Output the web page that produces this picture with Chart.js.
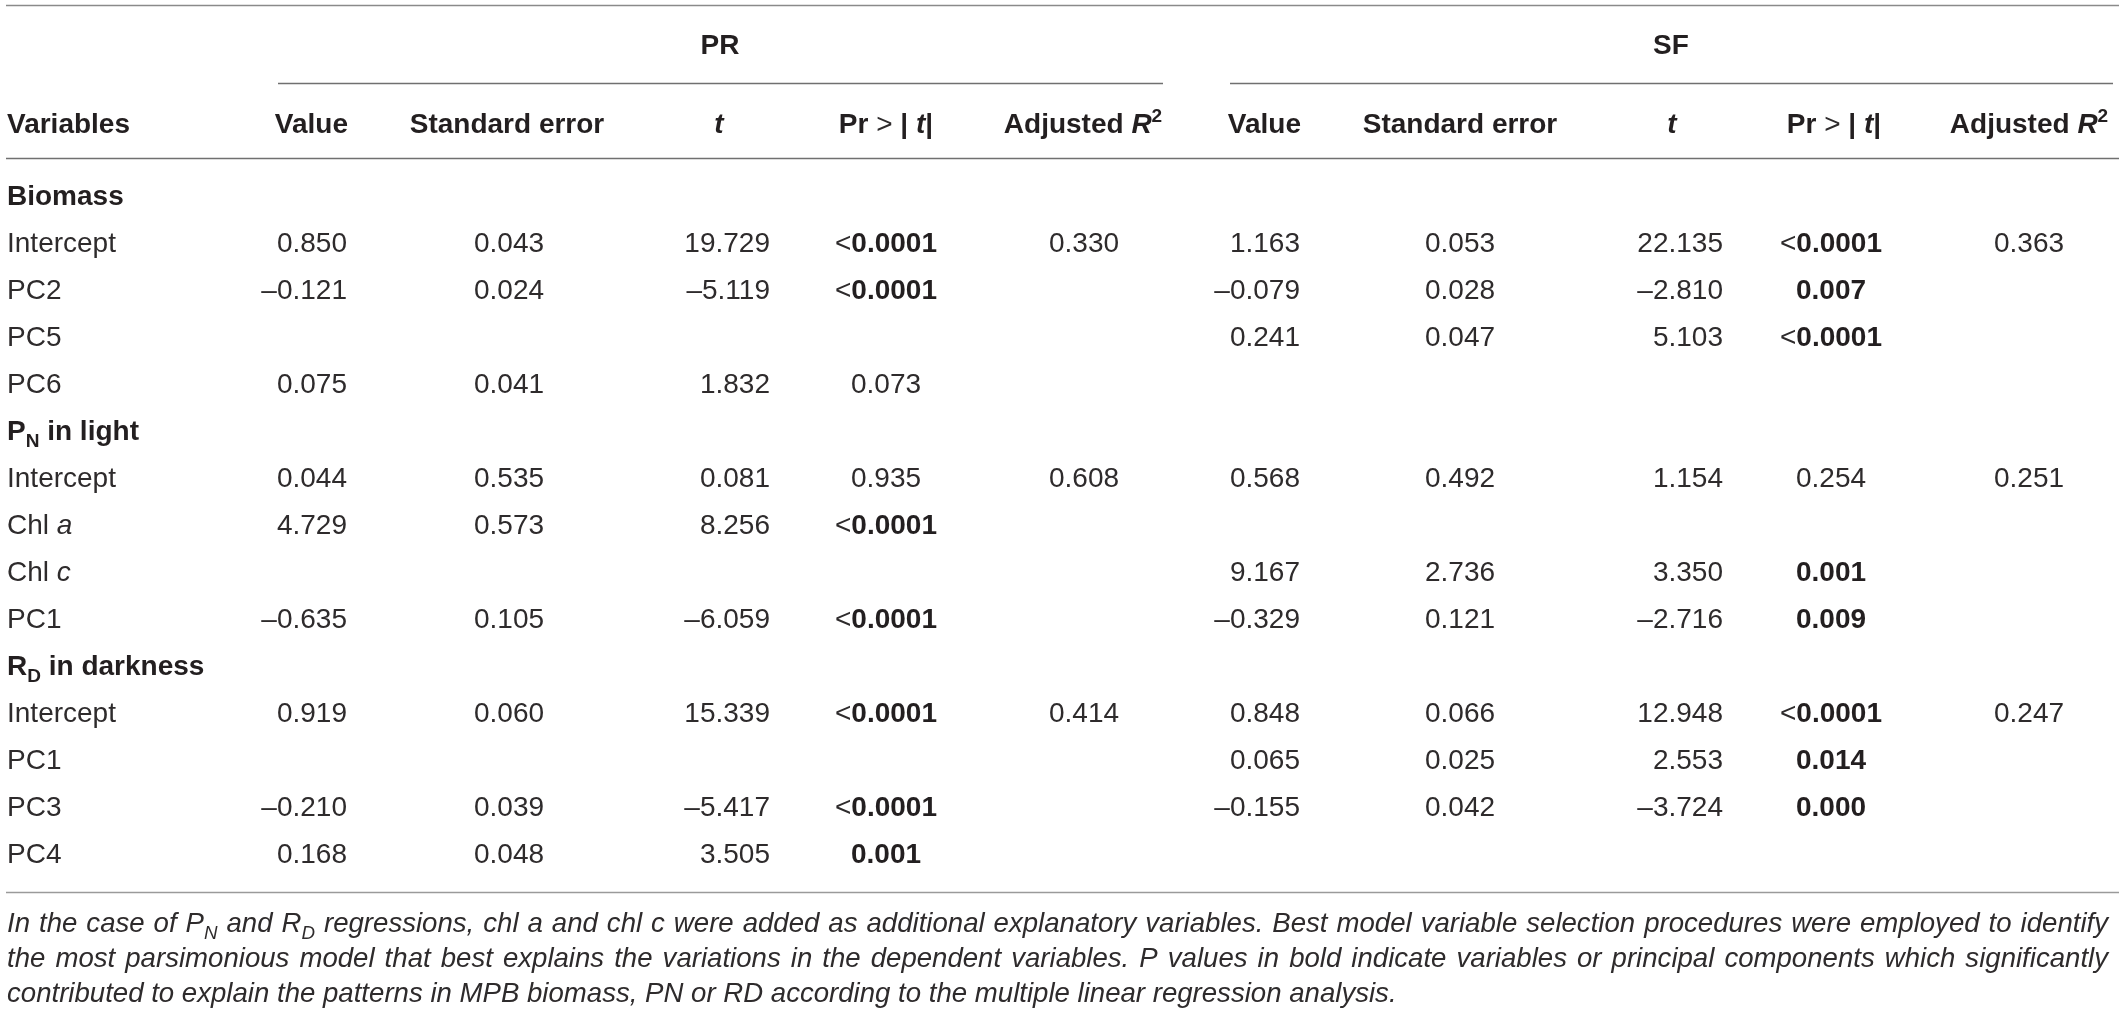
<!DOCTYPE html>
<html>
<head>
<meta charset="utf-8">
<script src="https://cdn.jsdelivr.net/npm/chart.js@4.4.1/dist/chart.umd.min.js"></script>
<style>
html,body{margin:0;padding:0;background:#ffffff;}
#wrap{position:relative;width:2119px;height:1015px;}
</style>
</head>
<body>
<div id="wrap"><canvas id="c"></canvas></div>
<script>
// ---------------- DATA ----------------
const groupNames = ['PR', 'SF'];
const headerVariables = 'Variables';
const columnHeaders = ['Value', 'Standard error', '*t*', 'Pr #># | *t*|', 'Adjusted *R*^{2}'];
const rowLabels = ['Biomass', 'Intercept', 'PC2', 'PC5', 'PC6',
  'P_{N} in light', 'Intercept', 'Chl *a*', 'Chl *c*', 'PC1',
  'R_{D} in darkness', 'Intercept', 'PC1', 'PC3', 'PC4'];
const sectionRows = [0, 5, 10];

const prValue = [null, 0.850, -0.121, null, 0.075, null, 0.044, 4.729, null, -0.635, null, 0.919, null, -0.210, 0.168];
const prSE    = [null, 0.043, 0.024, null, 0.041, null, 0.535, 0.573, null, 0.105, null, 0.060, null, 0.039, 0.048];
const prT     = [null, 19.729, -5.119, null, 1.832, null, 0.081, 8.256, null, -6.059, null, 15.339, null, -5.417, 3.505];
const prP     = [null, '<0.0001', '<0.0001', null, '0.073', null, '0.935', '<0.0001', null, '<0.0001', null, '<0.0001', null, '<0.0001', '0.001'];
const prR2    = [null, 0.330, null, null, null, null, 0.608, null, null, null, null, 0.414, null, null, null];

const sfValue = [null, 1.163, -0.079, 0.241, null, null, 0.568, null, 9.167, -0.329, null, 0.848, 0.065, -0.155, null];
const sfSE    = [null, 0.053, 0.028, 0.047, null, null, 0.492, null, 2.736, 0.121, null, 0.066, 0.025, 0.042, null];
const sfT     = [null, 22.135, -2.810, 5.103, null, null, 1.154, null, 3.350, -2.716, null, 12.948, 2.553, -3.724, null];
const sfP     = [null, '<0.0001', '0.007', '<0.0001', null, null, '0.254', null, '0.001', '0.009', null, '<0.0001', '0.014', '0.000', null];
const sfR2    = [null, 0.363, null, null, null, null, 0.251, null, null, null, null, 0.247, null, null, null];

const footnoteLines = [
  'In the case of P_{N} and R_{D} regressions, chl a and chl c were added as additional explanatory variables. Best model variable selection procedures were employed to identify',
  'the most parsimonious model that best explains the variations in the dependent variables. P values in bold indicate variables or principal components which significantly',
  'contributed to explain the patterns in MPB biomass, PN or RD according to the multiple linear regression analysis.'
];
const significance = 0.05;

// ---------------- LAYOUT ----------------
const W = 2119, H = 1015;
const ROW0 = 195, STEP = 47;               // pixel centre of first body row, row pitch
const R = px => (px - ROW0) / STEP;        // pixel -> row units
const FONT = '"Liberation Sans", Arial, Helvetica, sans-serif';
const SIZE = 28, FOOT_SIZE = 27.6;
const TEXT = '#231f20', TEXT_LIGHT = '#2e2b2c';
// column anchors per group: [x, align]
const bodyCols = [
  [[347, 'right'], [509, 'center'], [770, 'right'], [886, 'center'], [1084, 'center']],
  [[1300, 'right'], [1460, 'center'], [1723, 'right'], [1831, 'center'], [2029, 'center']]
];
const headCols = [
  [[348, 'right'], [507, 'center'], [719, 'center'], [886, 'center'], [1083, 'center']],
  [[1301, 'right'], [1460, 'center'], [1672, 'center'], [1834, 'center'], [2029, 'center']]
];
const groupX = [720, 1671];
const labelX = 7;
const rules = [
  { y: R(5), x0: 6, x1: 2119, c: '#8a8a8a' },
  { y: R(83), x0: 278, x1: 1163, c: '#707070' },
  { y: R(83), x0: 1230, x1: 2113, c: '#707070' },
  { y: R(158), x0: 6, x1: 2119, c: '#707070' },
  { y: R(892), x0: 6, x1: 2119, c: '#9a9a9a' }
];
const groupY = R(44), headY = R(123);
const footY = [R(922), R(957), R(992)];
const footRight = 2108;

// ---------------- HELPERS ----------------
function fmt(v) { return v == null ? null : v.toFixed(3).replace('-', '\u2013'); }
function isSig(p) { return p.startsWith('<') ? true : parseFloat(p) < significance; }

// tiny markup: *italic*  #toggle bold#  _{sub}  ^{sup}
function parse(str, base) {
  const runs = [];
  let b = !!base.b, i = !!base.i, buf = '';
  const flush = (extra) => { if (buf) runs.push(Object.assign({ t: buf, b, i }, extra || {})); buf = ''; };
  for (let k = 0; k < str.length; k++) {
    const ch = str[k];
    if (ch === '*') { flush(); i = !i; }
    else if (ch === '#') { flush(); b = !b; }
    else if ((ch === '_' || ch === '^') && str[k + 1] === '{') {
      flush();
      const end = str.indexOf('}', k);
      buf = str.slice(k + 2, end);
      flush(ch === '_' ? { sub: true } : { sup: true });
      k = end;
    } else buf += ch;
  }
  flush();
  return runs;
}
function fontOf(r, size) {
  const s = (r.sub || r.sup) ? size * 0.68 : size;
  return `${r.i ? 'italic ' : ''}${r.b ? 'bold ' : ''}${s}px ${FONT}`;
}
function drawRuns(ctx, runs, x, cy, size, align, justifyTo) {
  let total = 0, spaces = 0;
  runs.forEach(r => { ctx.font = fontOf(r, size); r.w = ctx.measureText(r.t).width; total += r.w; spaces += (r.t.match(/ /g) || []).length; });
  let sx = x;
  if (align === 'right') sx = x - total;
  else if (align === 'center') sx = x - total / 2;
  const extra = (justifyTo && spaces) ? (justifyTo - x - total) / spaces : 0;
  const base = cy + size * 0.36;
  ctx.textAlign = 'left';
  ctx.textBaseline = 'alphabetic';
  runs.forEach(r => {
    ctx.font = fontOf(r, size);
    ctx.fillStyle = r.b ? TEXT : TEXT_LIGHT;
    const dy = r.sub ? size * 0.24 : (r.sup ? -size * 0.38 : 0);
    if (extra) {
      const parts = r.t.split(' ');
      const sw = ctx.measureText(' ').width;
      parts.forEach((p, idx) => {
        if (p) { ctx.fillText(p, sx, base + dy); sx += ctx.measureText(p).width; }
        if (idx < parts.length - 1) sx += sw + extra;
      });
    } else {
      ctx.fillText(r.t, sx, base + dy);
      sx += r.w;
    }
  });
}

// ---------------- DATASETS ----------------
const groupsData = [
  [prValue, prSE, prT, prP, prR2],
  [sfValue, sfSE, sfT, sfP, sfR2]
];
const datasets = [];
// row labels
datasets.push({
  kind: 'label',
  data: rowLabels.map((l, i) => ({ x: labelX, y: i, runs: parse(l, { b: sectionRows.includes(i) }) })),
  align: 'left'
});
groupsData.forEach((cols, g) => {
  cols.forEach((arr, c) => {
    const pts = [];
    arr.forEach((v, i) => {
      if (v == null) return;
      let runs;
      if (c === 3) {
        if (isSig(v)) {
          runs = v.startsWith('<') ? [{ t: '<', b: false }, { t: v.slice(1), b: true }] : [{ t: v, b: true }];
        } else runs = [{ t: v, b: false }];
      } else runs = [{ t: fmt(v), b: false }];
      pts.push({ x: bodyCols[g][c][0], y: i, runs });
    });
    datasets.push({ kind: 'cell', data: pts, align: bodyCols[g][c][1] });
  });
});
// column headers
groupsData.forEach((cols, g) => {
  datasets.push({
    kind: 'head',
    data: columnHeaders.map((h, c) => ({ x: headCols[g][c][0], y: headY, runs: parse(h, { b: true }), align: headCols[g][c][1] }))
  });
});
datasets.push({
  kind: 'head',
  data: [{ x: labelX, y: headY, runs: parse(headerVariables, { b: true }), align: 'left' }]
    .concat(groupNames.map((n, g) => ({ x: groupX[g], y: groupY, runs: parse(n, { b: true }), align: 'center' })))
});
datasets.push({
  kind: 'foot',
  data: footnoteLines.map((l, k) => ({ x: labelX, y: footY[k], runs: parse(l, { i: true }), justify: k < footnoteLines.length - 1 }))
});
datasets.forEach(d => { d.pointRadius = 0; d.pointHoverRadius = 0; d.showLine = false; });

const tablePlugin = {
  id: 'tableText',
  afterDatasetsDraw(chart) {
    const ctx = chart.ctx;
    const xs = chart.scales.x, ys = chart.scales.y;
    ctx.save();
    rules.forEach(r => {
      const y = Math.round(ys.getPixelForValue(r.y)) + 0.5;
      ctx.strokeStyle = r.c; ctx.lineWidth = 1.6;
      ctx.beginPath(); ctx.moveTo(xs.getPixelForValue(r.x0), y); ctx.lineTo(xs.getPixelForValue(r.x1), y); ctx.stroke();
    });
    chart.data.datasets.forEach((ds, di) => {
      const meta = chart.getDatasetMeta(di);
      meta.data.forEach((el, j) => {
        const pt = ds.data[j];
        const size = ds.kind === 'foot' ? FOOT_SIZE : SIZE;
        const align = pt.align || ds.align || 'left';
        const jt = pt.justify ? xs.getPixelForValue(footRight) : null;
        drawRuns(ctx, pt.runs.map(r => Object.assign({}, r)), el.x, el.y, size, align, jt);
      });
    });
    ctx.restore();
  }
};

new Chart(document.getElementById('c'), {
  type: 'scatter',
  data: { datasets },
  options: {
    responsive: true,
    maintainAspectRatio: false,
    animation: false,
    events: [],
    layout: { padding: 0 },
    plugins: { legend: { display: false }, tooltip: { enabled: false } },
    scales: {
      x: { type: 'linear', display: false, min: 0, max: W },
      y: { type: 'linear', display: false, reverse: true, min: R(0), max: R(H) }
    }
  },
  plugins: [tablePlugin]
});
</script>
</body>
</html>
